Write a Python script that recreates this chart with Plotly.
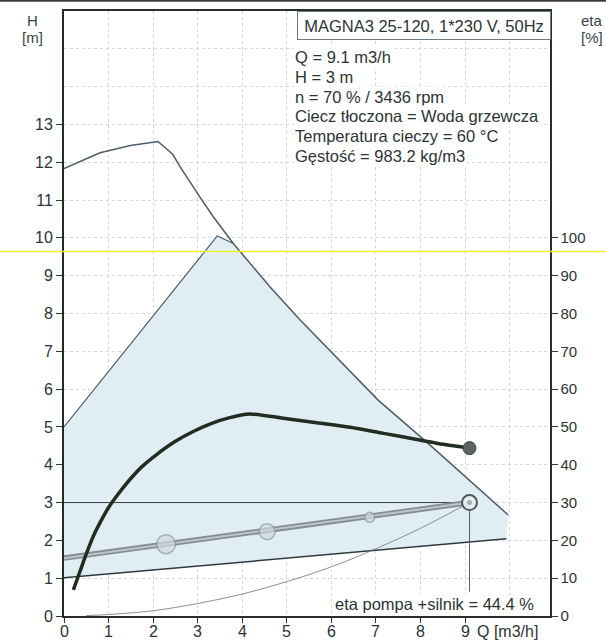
import plotly.graph_objects as go

# ---------------- data ----------------
q_ticks = [0, 1, 2, 3, 4, 5, 6, 7, 8, 9]
h_ticks = list(range(0, 14))
eta_ticks = list(range(0, 101, 10))

# max speed curve H(Q)
max_q = [0, 0.81, 1.49, 2.11, 2.44, 2.60, 3.05, 3.35, 3.80, 3.95, 4.62, 5.30, 7.05, 8.14, 9.34, 9.97]
max_h = [11.83, 12.25, 12.44, 12.55, 12.21, 11.89, 11.08, 10.56, 9.85, 9.64, 8.71, 7.83, 5.71, 4.60, 3.33, 2.67]

# proportional-pressure limit line (upper left edge of area)
lim_q = [0, 3.44, 3.80]
lim_h = [5.0, 10.05, 9.85]

# min curve
min_q = [0, 5.32, 9.93]
min_h = [1.01, 1.57, 2.04]

# system (control) curve with markers
sys_q = [0, 9.1]
sys_h = [1.53, 3.0]
pts_q = [2.29, 4.56, 6.86]
pts_h = [1.90, 2.23, 2.61]
pts_size = [19, 16, 10]

# thin pipe-system parabola through duty point
par_q = [0.5, 1, 2, 3, 4, 5, 6, 7, 8, 9.1]
par_h = [0.01, 0.04, 0.14, 0.33, 0.58, 0.91, 1.30, 1.78, 2.32, 3.0]

# duty point
op_q = 9.1
op_h = 3.0
op_line_bottom = 0.64

# efficiency pump + motor [%]
eta_q = [0.21, 0.35, 0.50, 0.65, 0.80, 1.00, 1.20, 1.45, 1.75, 2.10, 2.50, 2.90, 3.30, 3.70, 4.17, 4.92, 5.67, 6.42, 7.17, 7.92, 8.51, 9.1]
eta_v = [6.9, 11.5, 16.4, 20.9, 24.5, 28.7, 32.0, 35.7, 39.5, 42.9, 46.2, 48.8, 50.9, 52.4, 53.4, 52.3, 51.1, 49.9, 48.3, 46.7, 45.4, 44.4]
eta_op = 44.4

info_title = "MAGNA3 25-120, 1*230 V, 50Hz"
info_lines = [
    "Q = 9.1 m3/h",
    "H = 3 m",
    "n = 70 % / 3436 rpm",
    "Ciecz tłoczona = Woda grzewcza",
    "Temperatura cieczy = 60 °C",
    "Gęstość = 983.2 kg/m3",
]
eta_text = "eta pompa +silnik = 44.4 %"
scan_line_h = 9.64

# ---------------- figure ----------------
FONT = "Liberation Sans, Arial, sans-serif"
TXT = "#2b3434"
GRID = "#d3d8db"

W, H = 606, 640
L, R, T, B = 64, 56, 11, 24
PW, PH = W - L - R, H - T - B


def px_x(p):
    return (p - L) / PW


def px_y(p):
    return (H - B - p) / PH


fig = go.Figure()

# shaded operating area
area_q = [min_q[0]] + lim_q + [q for q in max_q if q > lim_q[-1]] + min_q[::-1]
area_h = [min_h[0]] + lim_h + [h for q, h in zip(max_q, max_h) if q > lim_q[-1]] + min_h[::-1]
fig.add_trace(go.Scatter(x=area_q, y=area_h, fill="toself", fillcolor="#e0eef4",
                         line=dict(width=0), mode="lines", hoverinfo="skip"))

fig.add_trace(go.Scatter(x=lim_q, y=lim_h, mode="lines", line=dict(color="#4d5c68", width=1.2)))
fig.add_trace(go.Scatter(x=max_q, y=max_h, mode="lines", line=dict(color="#4d5c68", width=1.5)))
fig.add_trace(go.Scatter(x=min_q, y=min_h, mode="lines", line=dict(color="#2f3a40", width=1.5)))
fig.add_trace(go.Scatter(x=par_q, y=par_h, mode="lines", line=dict(color="#6b7378", width=0.8, shape="spline")))
fig.add_trace(go.Scatter(x=[0, op_q], y=[op_h, op_h], mode="lines", line=dict(color="#3a4046", width=1)))
fig.add_trace(go.Scatter(x=[op_q, op_q], y=[op_h, op_line_bottom], mode="lines", line=dict(color="#5a6268", width=1)))

# control curve (double line look)
fig.add_trace(go.Scatter(x=sys_q, y=sys_h, mode="lines", line=dict(color="#858d92", width=5.5)))
fig.add_trace(go.Scatter(x=sys_q, y=sys_h, mode="lines", line=dict(color="#bcc4c8", width=2)))
fig.add_trace(go.Scatter(x=pts_q, y=pts_h, mode="markers",
                         marker=dict(size=pts_size, color="#cdd9df", line=dict(color="#8d979c", width=1.5))))
fig.add_trace(go.Scatter(x=[op_q], y=[op_h], mode="markers",
                         marker=dict(size=15, color="#e4ecef", line=dict(color="#4f585e", width=2))))
fig.add_trace(go.Scatter(x=[op_q], y=[op_h], mode="markers",
                         marker=dict(size=5, color="#a5aeb3", line=dict(width=0))))

# efficiency
fig.add_trace(go.Scatter(x=eta_q, y=eta_v, yaxis="y2", mode="lines",
                         line=dict(color="#222d22", width=3.5, shape="spline", smoothing=0.8)))
fig.add_trace(go.Scatter(x=[op_q], y=[eta_op], yaxis="y2", mode="markers",
                         marker=dict(size=13, color="#5b6560", line=dict(color="#3b433e", width=1))))

# ---------------- layout ----------------
fig.update_layout(
    width=W, height=H,
    margin=dict(l=L, r=R, t=T, b=B, autoexpand=False),
    paper_bgcolor="white", plot_bgcolor="white",
    showlegend=False,
    font=dict(family=FONT, color=TXT),
    xaxis=dict(range=[0, PW / 44.56], tickvals=q_ticks, ticks="outside", ticklen=5,
               tickcolor="#333", showticklabels=False, automargin=False,
               showgrid=True, gridcolor=GRID, griddash="dot", gridwidth=1,
               minor=dict(dtick=1, tick0=0, showgrid=True, gridcolor=GRID, griddash="dot", ticks=""),
               showline=True, linecolor="#263026", linewidth=2, mirror=True, zeroline=False),
    yaxis=dict(range=[0, 16], tickvals=h_ticks, ticks="outside", ticklen=6,
               tickcolor="#333", tickfont=dict(size=16, color=TXT), automargin=False,
               showgrid=True, gridcolor=GRID, griddash="dot", gridwidth=1,
               minor=dict(dtick=1, tick0=0, showgrid=True, gridcolor=GRID, griddash="dot", ticks=""),
               showline=True, linecolor="#1f2f1f", linewidth=2, zeroline=False),
    yaxis2=dict(range=[0, 160], tickvals=eta_ticks, overlaying="y", side="right",
                ticks="outside", ticklen=6, tickcolor="#333", tickfont=dict(size=15, color=TXT),
                automargin=False,
                showgrid=False, showline=True, linecolor="#263026", linewidth=1.5, zeroline=False),
)

ann = []
# x tick labels (placed as text at the tick positions)
for q in q_ticks:
    ann.append(dict(text=str(q), xref="x", yref="paper", x=q, y=px_y(631),
                    xanchor="center", yanchor="middle", showarrow=False,
                    font=dict(size=16, color=TXT)))
ann.append(dict(text=info_title, xref="paper", yref="paper", x=px_x(297), y=px_y(11),
                xanchor="left", yanchor="top", showarrow=False, font=dict(size=16.5, color=TXT),
                bgcolor="white", bordercolor="#6a7a80", borderwidth=1, borderpad=1,
                width=250, height=25, align="center"))
for i, line in enumerate(info_lines):
    ann.append(dict(text=line, xref="paper", yref="paper", x=px_x(293), y=px_y(57 + 19.8 * i),
                    xanchor="left", yanchor="middle", showarrow=False,
                    font=dict(size=16.5, color=TXT), bgcolor="white", borderpad=1))
ann.append(dict(text=eta_text, xref="paper", yref="paper", x=px_x(434), y=px_y(604),
                xanchor="center", yanchor="middle", showarrow=False,
                font=dict(size=16.5, color=TXT), bgcolor="white", borderpad=0))
for txt, xx, yy in [("H", 32, 21), ("[m]", 32, 37), ("eta", 592, 21), ("[%]", 592, 37)]:
    ann.append(dict(text=txt, xref="paper", yref="paper", x=px_x(xx), y=px_y(yy),
                    xanchor="center", yanchor="middle", showarrow=False,
                    font=dict(size=15, color="#354545")))
ann.append(dict(text="Q [m3/h]", xref="paper", yref="paper", x=px_x(507), y=px_y(631),
                xanchor="center", yanchor="middle", showarrow=False, font=dict(size=16, color=TXT)))
fig.update_layout(annotations=ann)

fig.update_layout(shapes=[
    dict(type="line", xref="paper", yref="y", x0=-0.14, x1=1.13, y0=scan_line_h, y1=scan_line_h,
         line=dict(color="#f2ee30", width=1.5), layer="above"),
    dict(type="line", xref="paper", yref="paper", x0=-0.14, x1=1.13, y0=px_y(0.8), y1=px_y(0.8),
         line=dict(color="#3c3c3c", width=2), layer="above"),
])

fig.write_html("out.html", config={"displayModeBar": False, "staticPlot": True})

# remove the default page margin so the figure sits at the window's top-left corner
with open("out.html", "r", encoding="utf-8") as f:
    html = f.read()
html = html.replace("<head>", "<head><style>html,body{margin:0;padding:0;overflow:hidden;}</style>", 1)
with open("out.html", "w", encoding="utf-8") as f:
    f.write(html)
